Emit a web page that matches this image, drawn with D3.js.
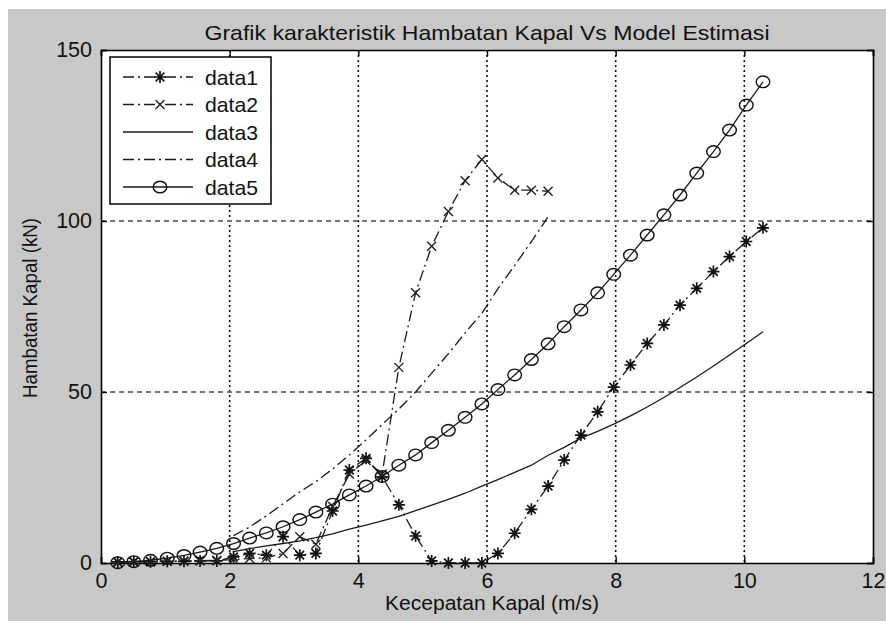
<!DOCTYPE html>
<html><head><meta charset="utf-8">
<script src="https://cdn.jsdelivr.net/npm/d3@7"></script>
<style>body{margin:0;background:#fff;} text{font-family:"Liberation Sans",Arial,sans-serif;}</style>
</head><body><svg id="c" width="886" height="621"></svg>
<script>
const title = "Grafik karakteristik Hambatan Kapal Vs Model Estimasi";
const xLabel = "Kecepatan Kapal (m/s)";
const yLabel = "Hambatan Kapal (kN)";
const xTicks = [0,2,4,6,8,10,12];
const yTicks = [0,50,100,150];
const seriesNames = ["data1","data2","data3","data4","data5"];
const speeds = [0.26,0.51,0.77,1.03,1.29,1.54,1.80,2.06,2.31,2.57,2.83,3.09,3.34,3.60,3.86,4.12,4.37,4.63,4.89,5.14,5.40,5.66,5.92,6.17,6.43,6.69,6.95,7.20,7.46,7.72,7.97,8.23,8.49,8.75,9.00,9.26,9.52,9.77,10.03,10.29];
// data1: starts at speeds[0]
const data1 = [0.3,0.4,0.4,0.5,0.5,0.6,0.6,1.8,2.8,2.3,7.7,2.3,2.8,15.2,27.2,30.6,25.2,17.0,7.9,0.6,0.0,0.0,0.0,2.8,8.7,15.7,22.5,30.1,37.4,44.2,51.4,57.9,64.2,69.6,75.4,80.3,85.2,89.6,94.0,98.0];
// data2: starts at speeds[0]
const data2 = [0.2,0.3,0.4,0.5,0.6,0.7,0.8,1.0,1.3,1.5,2.8,7.7,5.5,16.5,26.0,30.0,26.0,57.2,79.0,92.6,102.8,111.8,118.0,112.6,109.0,109.0,108.7];
// data3: starts at speeds[7]
const data3 = [3.3,4.2,5.0,5.7,6.5,7.4,8.5,9.9,11.1,12.3,13.6,15.3,16.9,18.6,20.4,22.5,24.4,26.5,28.6,31.5,33.8,36.5,38.5,40.6,43.0,45.6,48.4,51.3,54.4,57.6,60.8,64.2,67.6];
// data4: starts at speeds[7]
const data4 = [8.0,10.5,13.8,17.3,20.8,23.8,27.5,31.6,36.0,40.5,45.0,50.0,55.5,61.2,67.3,73.0,80.2,87.0,94.0,101.2];
// data5: starts at speeds[0]
const data5 = [0.1,0.4,0.8,1.4,2.2,3.2,4.3,5.7,7.3,8.8,10.6,12.7,14.9,17.2,19.9,22.5,25.3,28.6,31.6,35.2,38.8,42.6,46.5,50.7,55.0,59.5,64.1,69.1,74.0,79.0,84.4,90.0,95.9,101.8,107.6,114.0,120.3,126.6,133.9,140.7];
const offsets = [0,0,7,7,0];

const svg = d3.select("#c");
const L=101,R=873,T=50,B=563;
const x = d3.scaleLinear().domain([0,12]).range([L,R]);
const y = d3.scaleLinear().domain([0,150]).range([B,T]);
const FONT = "'Liberation Sans',Arial,sans-serif";

svg.append("rect").attr("x",8).attr("y",9).attr("width",878).attr("height",612).attr("fill","#c8c8c8");
svg.append("rect").attr("x",L).attr("y",T).attr("width",R-L).attr("height",B-T).attr("fill","#fff");

// grid
const g = svg.append("g");
g.selectAll("line.vg").data(xTicks.slice(1,-1)).join("line")
 .attr("x1",d=>x(d)).attr("x2",d=>x(d)).attr("y1",T).attr("y2",B)
 .attr("stroke","#111").attr("stroke-width",1.6).attr("stroke-dasharray","2,3");
g.selectAll("line.hg").data(yTicks.slice(1,-1)).join("line")
 .attr("y1",d=>y(d)).attr("y2",d=>y(d)).attr("x1",L).attr("x2",R)
 .attr("stroke","#777").attr("stroke-width",2.2).attr("stroke-dasharray","5,4");

// axes
const xa = svg.append("g").attr("transform",`translate(0,${B})`)
 .call(d3.axisBottom(x).tickValues(xTicks).tickSize(-6).tickPadding(10).tickFormat(d3.format("d")));
const xa2 = svg.append("g").attr("transform",`translate(0,${T})`)
 .call(d3.axisTop(x).tickValues(xTicks).tickSize(-6).tickFormat(""));
const ya = svg.append("g").attr("transform",`translate(${L},0)`)
 .call(d3.axisLeft(y).tickValues(yTicks).tickSize(-6).tickPadding(9).tickFormat(d3.format("d")));
const ya2 = svg.append("g").attr("transform",`translate(${R},0)`)
 .call(d3.axisRight(y).tickValues(yTicks).tickSize(-6).tickFormat(""));
[xa,xa2,ya,ya2].forEach(a=>{
  a.selectAll("path.domain").attr("stroke","#000").attr("stroke-width",1.6);
  a.selectAll(".tick line").attr("stroke","#000").attr("stroke-width",1.4);
  a.selectAll("text").attr("fill","#111").attr("font-size",21.5).attr("font-family",FONT);
});

// lines
const lineGen = (vals,off)=>d3.line().x((d,i)=>x(speeds[i+off])).y(d=>y(d))(vals);
const dashDot = "11,4,2,4";
const styles = [
  {dash:dashDot, marker:"star"},
  {dash:dashDot, marker:"x"},
  {dash:null, marker:null},
  {dash:dashDot, marker:null},
  {dash:null, marker:"circle"}
];
const all = [data1,data2,data3,data4,data5];
const plot = svg.append("g");
function drawMarker(sel, type, cx, cy){
  if(type==="star"){
    const s=6, d=4.3;
    sel.append("path").attr("d",`M${cx-s},${cy}L${cx+s},${cy}M${cx},${cy-s}L${cx},${cy+s}M${cx-d},${cy-d}L${cx+d},${cy+d}M${cx-d},${cy+d}L${cx+d},${cy-d}`)
      .attr("stroke","#111").attr("stroke-width",1.7).attr("fill","none");
  } else if(type==="x"){
    const d=4.5;
    sel.append("path").attr("d",`M${cx-d},${cy-d}L${cx+d},${cy+d}M${cx-d},${cy+d}L${cx+d},${cy-d}`)
      .attr("stroke","#222").attr("stroke-width",1.4).attr("fill","none");
  } else if(type==="circle"){
    sel.append("ellipse").attr("cx",cx).attr("cy",cy).attr("rx",6.8).attr("ry",5.8)
      .attr("stroke","#111").attr("stroke-width",1.4).attr("fill","none");
  }
}
all.forEach((vals,si)=>{
  const st = styles[si], off = offsets[si];
  plot.append("path").attr("d",lineGen(vals,off)).attr("fill","none")
    .attr("stroke","#1a1a1a").attr("stroke-width",1.3)
    .attr("stroke-dasharray",st.dash);
  if(st.marker){
    vals.forEach((v,i)=>drawMarker(plot, st.marker, x(speeds[i+off]), y(v)));
  }
});

// legend
const lg = svg.append("g");
lg.append("rect").attr("x",110).attr("y",57).attr("width",161).attr("height",147)
  .attr("fill","#fff").attr("stroke","#000").attr("stroke-width",1.5);
seriesNames.forEach((n,i)=>{
  const ly = 77 + i*27.5;
  lg.append("line").attr("x1",123).attr("x2",193).attr("y1",ly).attr("y2",ly)
    .attr("stroke","#1a1a1a").attr("stroke-width",1.3).attr("stroke-dasharray",styles[i].dash);
  if(styles[i].marker) drawMarker(lg, styles[i].marker, 160, ly);
  lg.append("text").attr("x",205).attr("y",ly+7.5).attr("font-size",21).attr("fill","#111")
    .attr("textLength",53).attr("lengthAdjust","spacingAndGlyphs").text(n);
});

// labels
svg.append("text").attr("x",487).attr("y",40).attr("text-anchor","middle").attr("font-size",21)
  .attr("fill","#111").attr("textLength",565).attr("lengthAdjust","spacingAndGlyphs").text(title);
svg.append("text").attr("x",492).attr("y",610).attr("text-anchor","middle").attr("font-size",20.5)
  .attr("fill","#111").attr("textLength",214).attr("lengthAdjust","spacingAndGlyphs").text(xLabel);
svg.append("text").attr("transform","translate(37,308) rotate(-90)").attr("text-anchor","middle").attr("font-size",20)
  .attr("fill","#111").attr("textLength",180).attr("lengthAdjust","spacingAndGlyphs").text(yLabel);
</script></body></html>
